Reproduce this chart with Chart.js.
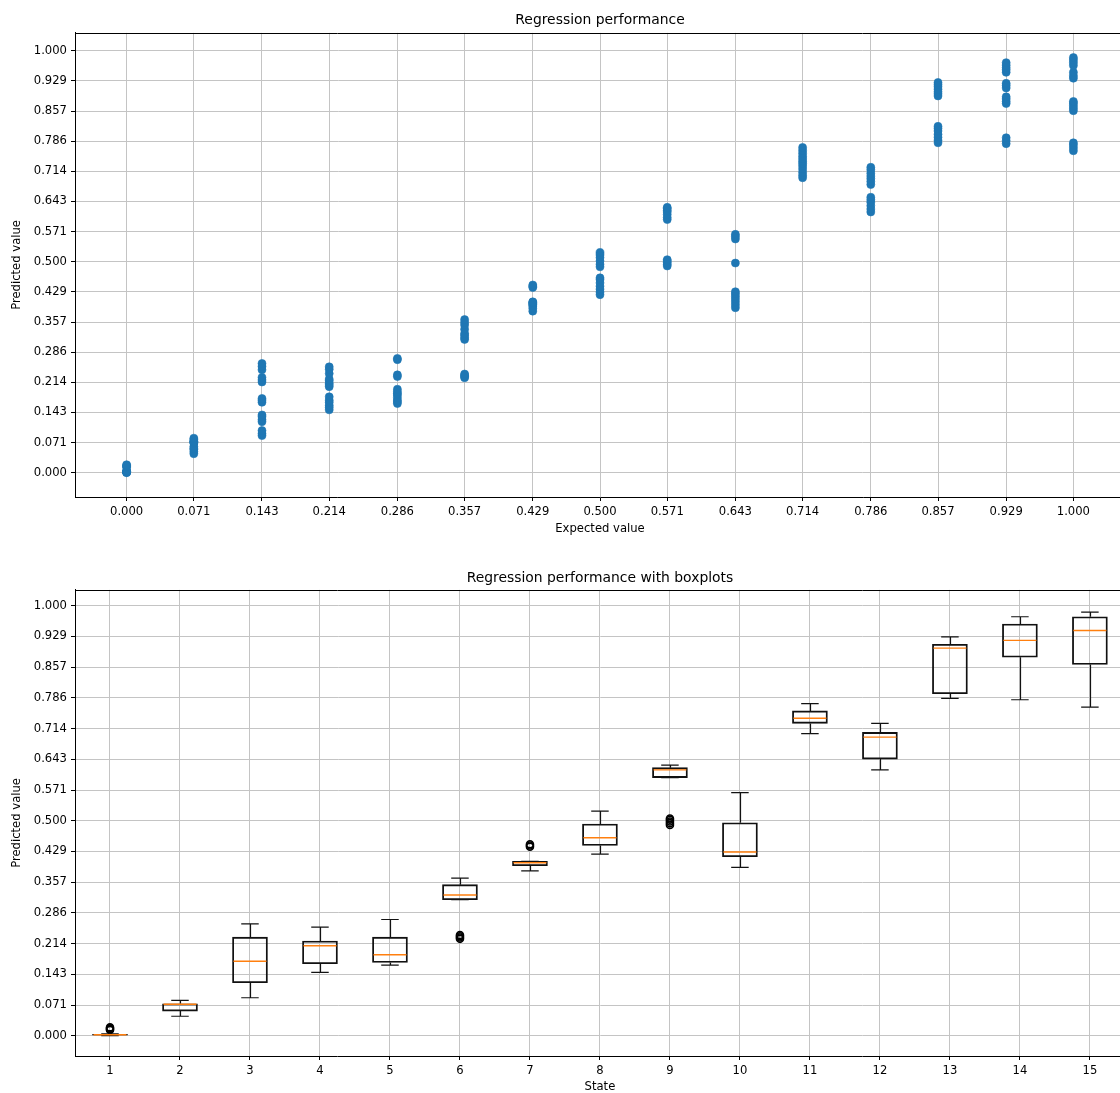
<!DOCTYPE html>
<html>
<head>
<meta charset="utf-8">
<title>Regression performance</title>
<script src="https://cdn.jsdelivr.net/npm/chart.js@4.4.1/dist/chart.umd.min.js"></script>
<style>
  html, body { margin: 0; padding: 0; background: #fff; overflow: hidden; }
  body { width: 1120px; height: 1093px; position: relative; }
  canvas { position: absolute; left: 0; }
  #chart-scatter { top: 0; }
  #chart-box { top: 545px; }
</style>
</head>
<body>
<canvas id="chart-scatter" width="1130" height="540"></canvas>
<canvas id="chart-box" width="1130" height="560"></canvas>
<script>
// Tick values shared by the expected / predicted axes
const valueTicks = [0.000, 0.071, 0.143, 0.214, 0.286, 0.357, 0.429, 0.500, 0.571, 0.643, 0.714, 0.786, 0.857, 0.929, 1.000];

// Top plot: expected value per state and the predictions at that value
const expected = [0.000, 0.071, 0.143, 0.214, 0.286, 0.357, 0.429, 0.500, 0.571, 0.643, 0.714, 0.786, 0.857, 0.929, 1.000];
const predicted = [
    [0.000, 0.001, 0.002, 0.002, 0.002, 0.003, 0.003, 0.004, 0.013, 0.015, 0.017, 0.019],
    [0.045, 0.050, 0.055, 0.058, 0.062, 0.070, 0.072, 0.073, 0.074, 0.075, 0.079, 0.082],
    [0.088, 0.093, 0.100, 0.121, 0.126, 0.133, 0.137, 0.167, 0.172, 0.176, 0.215, 0.220, 0.226, 0.244, 0.252, 0.259],
    [0.149, 0.155, 0.160, 0.167, 0.172, 0.180, 0.204, 0.208, 0.212, 0.218, 0.222, 0.235, 0.245, 0.251],
    [0.164, 0.168, 0.172, 0.178, 0.184, 0.188, 0.192, 0.198, 0.228, 0.232, 0.268, 0.271],
    [0.225, 0.228, 0.231, 0.234, 0.316, 0.320, 0.326, 0.330, 0.340, 0.350, 0.356, 0.363],
    [0.383, 0.390, 0.395, 0.398, 0.400, 0.402, 0.404, 0.405, 0.439, 0.442, 0.445],
    [0.422, 0.428, 0.435, 0.442, 0.450, 0.458, 0.462, 0.488, 0.494, 0.502, 0.510, 0.516, 0.522],
    [0.490, 0.494, 0.498, 0.502, 0.505, 0.600, 0.605, 0.612, 0.618, 0.622, 0.626, 0.629],
    [0.391, 0.398, 0.405, 0.412, 0.418, 0.424, 0.429, 0.497, 0.554, 0.560, 0.565],
    [0.699, 0.705, 0.712, 0.720, 0.727, 0.733, 0.738, 0.744, 0.750, 0.757, 0.764, 0.771],
    [0.618, 0.625, 0.633, 0.641, 0.647, 0.653, 0.683, 0.690, 0.697, 0.703, 0.710, 0.718, 0.724],
    [0.782, 0.788, 0.795, 0.802, 0.810, 0.816, 0.821, 0.893, 0.898, 0.903, 0.909, 0.915, 0.920, 0.925],
    [0.780, 0.787, 0.794, 0.875, 0.880, 0.886, 0.891, 0.912, 0.918, 0.923, 0.949, 0.955, 0.960, 0.966, 0.972],
    [0.763, 0.770, 0.777, 0.782, 0.858, 0.864, 0.870, 0.876, 0.880, 0.935, 0.941, 0.949, 0.965, 0.972, 0.978, 0.984]
];

// Bottom plot: boxplot statistics per state
const states = [1, 2, 3, 4, 5, 6, 7, 8, 9, 10, 11, 12, 13, 14, 15];
const whiskerLow  = [0.000, 0.045, 0.088, 0.147, 0.164, 0.316, 0.383, 0.422, 0.600, 0.391, 0.702, 0.618, 0.784, 0.781, 0.764];
const boxQ1       = [0.001, 0.057, 0.123, 0.167, 0.170, 0.316, 0.395, 0.442, 0.600, 0.416, 0.726, 0.643, 0.795, 0.880, 0.863];
const boxMedian   = [0.002, 0.073, 0.173, 0.209, 0.188, 0.327, 0.402, 0.460, 0.618, 0.427, 0.738, 0.694, 0.901, 0.919, 0.942];
const boxQ3       = [0.003, 0.074, 0.229, 0.220, 0.229, 0.351, 0.405, 0.492, 0.623, 0.495, 0.755, 0.705, 0.910, 0.957, 0.974];
const whiskerHigh = [0.004, 0.082, 0.260, 0.252, 0.270, 0.366, 0.405, 0.522, 0.629, 0.565, 0.772, 0.726, 0.927, 0.974, 0.985];
const outlierState = [1, 1, 1, 1, 6, 6, 6, 6, 7, 7, 7, 9, 9, 9, 9, 9];
const outlierValue = [0.013, 0.015, 0.017, 0.019, 0.225, 0.228, 0.231, 0.234, 0.439, 0.442, 0.445, 0.490, 0.494, 0.498, 0.502, 0.505];

const FONT = 'DejaVu Sans';
const tickFont = { family: FONT, size: 11.6, lineHeight: 1.2 };
const titleFont = { family: FONT, size: 13.9, weight: 'normal', lineHeight: 1.2 };
const GRID = '#c4c4c4';

// matplotlib-like frame: top and right spines
const framePlugin = {
    id: 'frame',
    afterDraw(chart) {
        const { ctx, chartArea: a } = chart;
        ctx.save();
        ctx.strokeStyle = '#000';
        ctx.lineWidth = 1;
        ctx.beginPath();
        ctx.moveTo(a.left, Math.round(a.top) + 0.5);
        ctx.lineTo(a.right, Math.round(a.top) + 0.5);
        ctx.moveTo(Math.round(a.right) - 0.5, a.top);
        ctx.lineTo(Math.round(a.right) - 0.5, a.bottom);
        ctx.stroke();
        ctx.restore();
    }
};

function xAxis(min, max, ticks, fmt, label, height, titlePad) {
    return {
        type: 'linear', min, max, bounds: 'data', offset: false,
        afterBuildTicks: s => { s.ticks = ticks.map(v => ({ value: v })); },
        afterFit: s => { s.height = height; },
        grid: { color: GRID, lineWidth: 1, tickLength: 4, tickColor: '#000', offset: false },
        border: { display: true, color: '#000', width: 1 },
        ticks: { color: '#000', font: tickFont, padding: 4, maxRotation: 0, autoSkip: false, callback: fmt },
        title: { display: true, text: label, color: '#000', font: tickFont, padding: { top: 0, bottom: titlePad } }
    };
}

function yAxis(min, max) {
    return {
        type: 'linear', min, max, bounds: 'data', beginAtZero: false,
        afterBuildTicks: s => { s.ticks = valueTicks.map(v => ({ value: v })); },
        afterFit: s => { s.width = 75; },
        grid: { color: GRID, lineWidth: 1, tickLength: 4, tickColor: '#000' },
        border: { display: true, color: '#000', width: 1 },
        ticks: { color: '#000', font: tickFont, padding: 4, autoSkip: false, callback: v => v.toFixed(3) },
        title: { display: true, text: 'Predicted value', color: '#000', font: tickFont, padding: { top: 10, bottom: 0 } }
    };
}

// Top: scatter of predictions
const scatterPoints = expected.flatMap((x, i) => predicted[i].map(y => ({ x, y })));

new Chart(document.getElementById('chart-scatter'), {
    type: 'scatter',
    data: {
        datasets: [{
            data: scatterPoints,
            backgroundColor: '#1f77b4',
            borderColor: '#1f77b4',
            borderWidth: 0.6,
            pointRadius: 4,
            pointHoverRadius: 4
        }]
    },
    options: {
        responsive: false,
        animation: false,
        events: [],
        layout: { padding: { left: 0, right: 5, top: 0, bottom: 0 } },
        plugins: {
            legend: { display: false },
            tooltip: { enabled: false },
            title: {
                display: true, text: 'Regression performance', fullSize: false,
                color: '#000', font: titleFont, padding: { top: 11.6, bottom: 4.6 }
            }
        },
        scales: {
            x: xAxis(-0.0545, 1.0545, expected, v => v.toFixed(3), 'Expected value', 43, 3.8),
            y: yAxis(-0.0575, 1.0425)
        }
    },
    plugins: [framePlugin]
});

// Bottom: boxplots (boxes are floating bars, whiskers + medians drawn from the scales)
const whiskerPlugin = {
    id: 'whiskers',
    afterDatasetsDraw(chart) {
        const { ctx, scales: { x, y } } = chart;
        ctx.save();
        ctx.lineWidth = 1.2;
        states.forEach((s, i) => {
            const cx = Math.round(x.getPixelForValue(s)) + 0.5;
            const capL = x.getPixelForValue(s - 0.125), capR = x.getPixelForValue(s + 0.125);
            const boxL = x.getPixelForValue(s - 0.25), boxR = x.getPixelForValue(s + 0.25);
            const yLow = y.getPixelForValue(whiskerLow[i]);
            const yHigh = y.getPixelForValue(whiskerHigh[i]);
            const yQ1 = y.getPixelForValue(boxQ1[i]);
            const yQ3 = y.getPixelForValue(boxQ3[i]);
            const yMed = y.getPixelForValue(boxMedian[i]);
            ctx.strokeStyle = '#111';
            ctx.beginPath();
            ctx.moveTo(cx, yQ1); ctx.lineTo(cx, yLow);
            ctx.moveTo(capL, yLow); ctx.lineTo(capR, yLow);
            ctx.moveTo(cx, yQ3); ctx.lineTo(cx, yHigh);
            ctx.moveTo(capL, yHigh); ctx.lineTo(capR, yHigh);
            ctx.stroke();
            ctx.strokeStyle = '#ff7f0e';
            ctx.lineWidth = 1.4;
            ctx.beginPath();
            ctx.moveTo(boxL + 1, yMed); ctx.lineTo(boxR - 1, yMed);
            ctx.stroke();
            ctx.lineWidth = 1.2;
        });
        ctx.restore();
    }
};

new Chart(document.getElementById('chart-box'), {
    type: 'bar',
    data: {
        datasets: [{
            type: 'bar',
            data: states.map((s, i) => ({ x: s, y: [boxQ1[i], boxQ3[i]] })),
            backgroundColor: 'rgba(0,0,0,0)',
            borderColor: '#111',
            borderWidth: 1.2,
            borderSkipped: false,
            barThickness: 35
        }, {
            type: 'scatter',
            data: outlierState.map((s, i) => ({ x: s, y: outlierValue[i] })),
            backgroundColor: 'rgba(0,0,0,0)',
            borderColor: '#000',
            borderWidth: 1.6,
            pointRadius: 3.5,
            pointHoverRadius: 3.5
        }]
    },
    options: {
        responsive: false,
        animation: false,
        events: [],
        layout: { padding: { left: 0, right: 5, top: 0, bottom: 0 } },
        plugins: {
            legend: { display: false },
            tooltip: { enabled: false },
            title: {
                display: true, text: 'Regression performance with boxplots', fullSize: false,
                color: '#000', font: titleFont, padding: { top: 24.6, bottom: 3.6 }
            }
        },
        scales: {
            x: xAxis(0.5, 15.5, states, v => String(v), 'State', 49, 11.1),
            y: yAxis(-0.0475, 1.0365)
        }
    },
    plugins: [whiskerPlugin, framePlugin]
});
</script>
</body>
</html>
